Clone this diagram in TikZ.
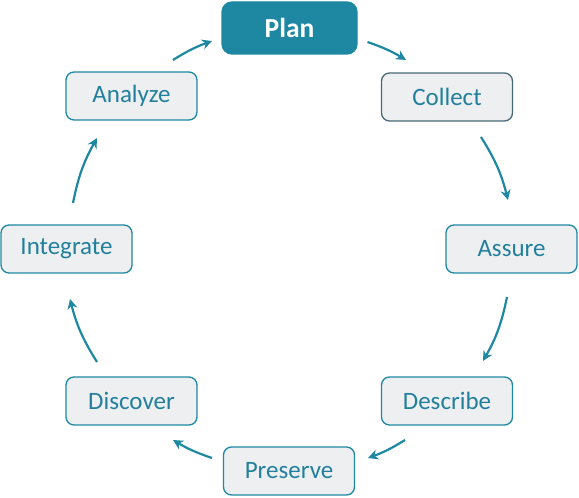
\documentclass[tikz,border=0pt]{standalone}
\usepackage{fontspec}
\setmainfont{Carlito}
\usetikzlibrary{arrows.meta}
\definecolor{lcteal}{RGB}{30,136,163}
\definecolor{lctext}{RGB}{34,128,156}
\definecolor{lcslate}{RGB}{72,104,118}
\definecolor{lcgray}{RGB}{237,239,241}
\tikzset{
  stage/.style  ={rectangle, rounded corners=8pt, draw=lcteal, line width=1.3pt, fill=lcgray,
                  text=lctext, font=\fontsize{25}{28}\selectfont,
                  minimum width=131pt, minimum height=48pt},
  stagehd/.style={stage, rounded corners=10pt, fill=lcteal, text=white,
                  font=\fontsize{27.5}{30}\selectfont\bfseries,
                  minimum width=135pt, minimum height=52pt},
  stagedk/.style={stage, draw=lcslate},
  cyc/.style    ={-{Stealth[length=10pt,width=10pt]}, draw=lcteal, line width=2.2pt},
}
\begin{document}
\begin{tikzpicture}[x=1pt,y=1pt]
\useasboundingbox (0,0) rectangle (579,498);
% the eight stages, clockwise from the top
\node[stagehd] (plan)      at (289.5,470) {Plan};
\node[stagedk] (collect)   at (447,401)   {Collect};
\node[stage]   (assure)    at (511.5,249) {Assure};
\node[stage]   (describe)  at (447,97)    {Describe};
\node[stage]   (preserve)  at (289,27)    {Preserve};
\node[stage]   (discover)  at (131.5,97)  {Discover};
\node[stage]   (integrate) at (66.5,249)  {Integrate};
\node[stage]   (analyze)   at (131.5,402) {Analyze};
% cycle arrows
\draw[cyc] ([shift={(78,-14)}]plan.center)     to[bend left=6] ([shift={(-41,37)}]collect.center);
\draw[cyc] ([shift={(34,-40)}]collect.center)  to[bend left=9] ([shift={(-3.5,49)}]assure.center);
\draw[cyc] ([shift={(-4.5,-48)}]assure.center) to[bend left=9] ([shift={(36,40)}]describe.center);
\draw[cyc] ([shift={(-42,-39)}]describe.center) to[bend left=6] ([shift={(79,13)}]preserve.center);
\draw[cyc] ([shift={(-77,13)}]preserve.center) to[bend left=6] ([shift={(41.5,-39)}]discover.center);
\draw[cyc] ([shift={(-34.5,39)}]discover.center) to[bend left=9] ([shift={(3.5,-50)}]integrate.center);
\draw[cyc] ([shift={(6.5,46)}]integrate.center) to[bend left=9] ([shift={(-34.5,-42)}]analyze.center);
\draw[cyc] ([shift={(41.5,36)}]analyze.center) to[bend left=6] ([shift={(-77.5,-13)}]plan.center);
\end{tikzpicture}
\end{document}
